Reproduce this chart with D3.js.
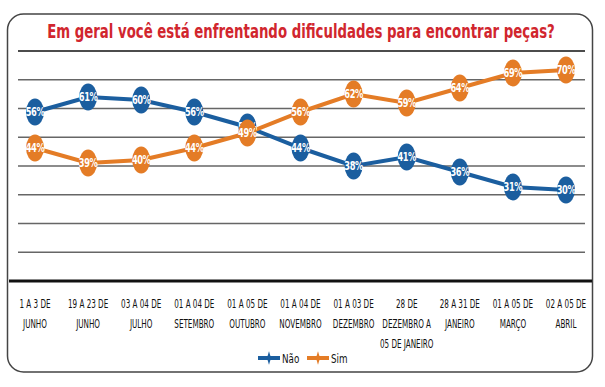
<!DOCTYPE html>
<html>
<head>
<meta charset="utf-8">
<script src="https://cdn.jsdelivr.net/npm/d3@7"></script>
<style>
  body { margin: 0; background: #fff; }
  svg { display: block; }
</style>
</head>
<body>
<div id="chart"></div>
<script>
// dados
const categorias = [
  ["1 A 3 DE", "JUNHO"],
  ["19 A 23 DE", "JUNHO"],
  ["03 A 04 DE", "JULHO"],
  ["01 A 04 DE", "SETEMBRO"],
  ["01 A 05 DE", "OUTUBRO"],
  ["01 A 04 DE", "NOVEMBRO"],
  ["01 A 03 DE", "DEZEMBRO"],
  ["28 DE", "DEZEMBRO A", "05 DE JANEIRO"],
  ["28 A 31 DE", "JANEIRO"],
  ["01 A 05 DE", "MARÇO"],
  ["02 A 05 DE", "ABRIL"]
];
const nao = [56, 61, 60, 56, 51, 44, 38, 41, 36, 31, 30];
const sim = [44, 39, 40, 44, 49, 56, 62, 59, 64, 69, 70];
const series = [
  { name: "Não", values: nao, color: "#1b5e9f" },
  { name: "Sim", values: sim, color: "#e47c26" }
];

const width = 605, height = 387;
const font = "'DejaVu Sans Condensed', 'DejaVu Sans', sans-serif";

const svg = d3.select("#chart").append("svg")
  .attr("width", width)
  .attr("height", height)
  .attr("viewBox", `0 0 ${width} ${height}`);

// moldura
svg.append("rect")
  .attr("x", 7.5).attr("y", 14)
  .attr("width", 585).attr("height", 358)
  .attr("rx", 16)
  .attr("fill", "#fff")
  .attr("stroke", "#444")
  .attr("stroke-width", 1.5);

// titulo (comprimido na horizontal, como no original)
const title = svg.append("text")
  .attr("text-anchor", "middle")
  .attr("fill", "#d1262e")
  .style("font-family", font)
  .style("font-weight", "bold")
  .style("font-size", "19px")
  .text("Em geral você está enfrentando dificuldades para encontrar peças?");
const tw = title.node().getComputedTextLength();
title.attr("transform", `translate(301,38) scale(${508 / tw},1)`);

// escalas
const x = d3.scalePoint()
  .domain(d3.range(categorias.length))
  .range([35, 566]);

const y = d3.scaleLinear()
  .domain([0, 100])
  .range([280, -20]);

const grid = d3.scaleLinear().domain([0, 8]).range([281, 51]);

// linhas de grade
svg.selectAll(".grid")
  .data(d3.range(1, 9)).enter().append("line")
  .attr("x1", 18).attr("x2", 585)
  .attr("y1", d => grid(d)).attr("y2", d => grid(d))
  .attr("stroke", d => d === 8 ? "#111" : "#666")
  .attr("stroke-width", d => d === 8 ? 1.5 : 1.3);

// eixo base
svg.append("line")
  .attr("x1", 9).attr("x2", 592)
  .attr("y1", grid(0)).attr("y2", grid(0))
  .attr("stroke", "#111")
  .attr("stroke-width", 3);

// rotulos do eixo x
const xl = svg.selectAll(".xlabel")
  .data(categorias).enter().append("text")
  .attr("transform", (d, i) => `translate(${x(i)},0) scale(0.68,1)`)
  .attr("text-anchor", "middle")
  .attr("fill", "#111")
  .style("font-family", font)
  .style("font-size", "11.8px");

xl.selectAll("tspan")
  .data(d => d).enter().append("tspan")
  .attr("x", 0)
  .attr("y", (d, j) => 308 + j * 20)
  .text(d => d);

// linhas das series
const line = d3.line()
  .x((d, i) => x(i))
  .y(d => y(d));

series.forEach(s => {
  svg.append("path")
    .datum(s.values)
    .attr("fill", "none")
    .attr("stroke", s.color)
    .attr("stroke-width", 4)
    .attr("d", line);
});

series.forEach(s => {
  const g = svg.append("g");
  g.selectAll("ellipse")
    .data(s.values).enter().append("ellipse")
    .attr("cx", (d, i) => x(i))
    .attr("cy", d => y(d))
    .attr("rx", 9)
    .attr("ry", 13.5)
    .attr("fill", s.color);
  g.selectAll("text")
    .data(s.values).enter().append("text")
    .attr("transform", (d, i) => `translate(${x(i)},${y(d)}) scale(0.8,1)`)
    .attr("dy", "0.36em")
    .attr("text-anchor", "middle")
    .attr("fill", "#fff")
    .style("font-family", font)
    .style("font-weight", "bold")
    .style("font-size", "11.5px")
    .style("letter-spacing", "-0.5px")
    .text(d => d + "%");
});

// legenda
const leg = svg.selectAll(".leg")
  .data(series).enter().append("g")
  .attr("transform", (d, i) => `translate(${258 + i * 49}, 358)`);

leg.append("line")
  .attr("x1", 0).attr("x2", 22)
  .attr("stroke", d => d.color)
  .attr("stroke-width", 4);

leg.append("path")
  .attr("d", d3.symbol(d3.symbolDiamond, 30))
  .attr("transform", "translate(11,0) scale(0.7,1.3)")
  .attr("fill", d => d.color);

leg.append("text")
  .attr("transform", "translate(24,0) scale(0.75,1)")
  .attr("dy", "0.36em")
  .attr("fill", "#111")
  .style("font-family", font)
  .style("font-size", "13px")
  .text(d => d.name);
</script>
</body>
</html>
